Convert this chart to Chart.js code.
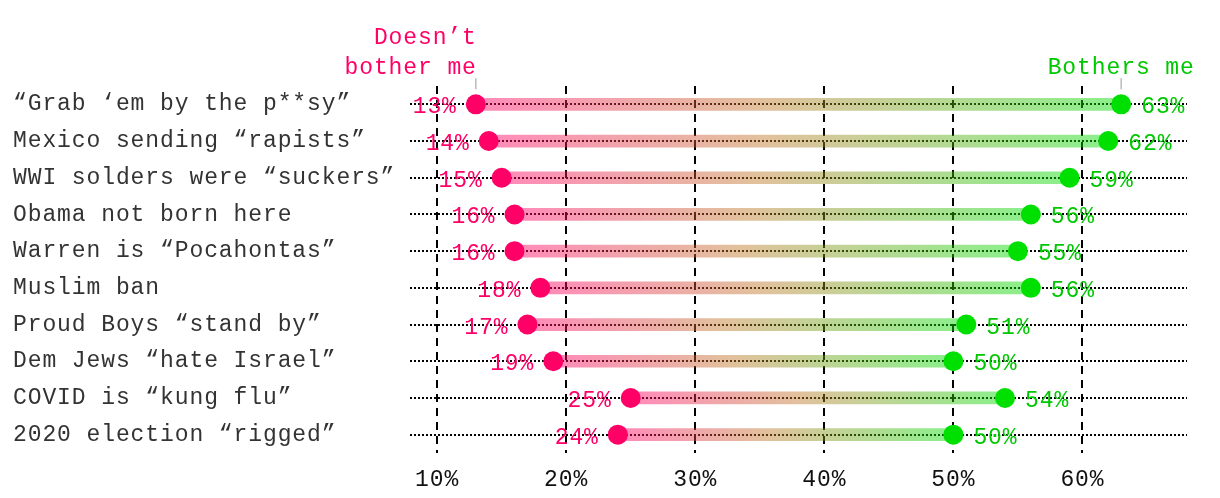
<!DOCTYPE html>
<html>
<head>
<meta charset="utf-8">
<script src="https://cdn.jsdelivr.net/npm/chart.js@4/dist/chart.umd.min.js"></script>
<style>
  html, body { margin: 0; padding: 0; background: #fff; }
  #wrap { width: 1220px; height: 498px; position: relative; }
</style>
</head>
<body>
<div id="wrap"><canvas id="c" width="1220" height="498"></canvas></div>
<script>
const categories = [
  "“Grab ‘em by the p**sy”",
  "Mexico sending “rapists”",
  "WWI solders were “suckers”",
  "Obama not born here",
  "Warren is “Pocahontas”",
  "Muslim ban",
  "Proud Boys “stand by”",
  "Dem Jews “hate Israel”",
  "COVID is “kung flu”",
  "2020 election “rigged”"
];
const doesntBother = [13, 14, 15, 16, 16, 18, 17, 19, 25, 24];
const bothers = [63, 62, 59, 56, 55, 56, 51, 50, 54, 50];
const xTicks = [10, 20, 30, 40, 50, 60];

const PINK = '#ff0066';
const GREEN = '#00e000';
const GREEN_TEXT = '#00c800';
const FONT = "'Liberation Mono', monospace";
const FSIZE = 23;
const SPACING = '0.9px';

Chart.defaults.font.family = FONT;
Chart.defaults.font.size = FSIZE;

const spacingPlugin = {
  id: 'spacing',
  beforeUpdate(c) { c.ctx.letterSpacing = SPACING; },
  beforeLayout(c) { c.ctx.letterSpacing = SPACING; },
  beforeDraw(c) { c.ctx.letterSpacing = SPACING; }
};

const labelPlugin = {
  id: 'labels',
  afterDatasetsDraw(chart) {
    const ctx = chart.ctx;
    const xs = chart.scales.x, ys = chart.scales.y;
    ctx.save();
    ctx.letterSpacing = SPACING;
    ctx.font = FSIZE + "px " + FONT;
    ctx.textBaseline = 'alphabetic';
    categories.forEach((cat, i) => {
      const y = ys.getPixelForValue(i);
      const xl = xs.getPixelForValue(doesntBother[i]);
      const xr = xs.getPixelForValue(bothers[i]);
      ctx.fillStyle = PINK;
      ctx.textAlign = 'right';
      ctx.fillText(doesntBother[i] + '%', xl - 19, y + 9);
      ctx.fillStyle = GREEN_TEXT;
      ctx.textAlign = 'left';
      ctx.fillText(bothers[i] + '%', xr + 20, y + 9);
    });
    const y0 = ys.getPixelForValue(0);
    const xl0 = xs.getPixelForValue(doesntBother[0]);
    const xr0 = xs.getPixelForValue(bothers[0]);
    ctx.fillStyle = PINK;
    ctx.textAlign = 'right';
    ctx.fillText('Doesn’t', xl0 + 1, 44);
    ctx.fillText('bother me', xl0 + 1, 74);
    ctx.fillStyle = GREEN_TEXT;
    ctx.textAlign = 'center';
    ctx.fillText('Bothers me', xr0, 74);
    ctx.strokeStyle = '#bbbbbb';
    ctx.lineWidth = 1.5;
    ctx.beginPath();
    ctx.moveTo(xl0, y0 - 26); ctx.lineTo(xl0, y0 - 15);
    ctx.moveTo(xr0, y0 - 26); ctx.lineTo(xr0, y0 - 15);
    ctx.stroke();
    ctx.restore();
  }
};

new Chart(document.getElementById('c'), {
  type: 'bar',
  data: {
    labels: categories,
    datasets: [
      {
        type: 'bar',
        data: categories.map((c, i) => [doesntBother[i], bothers[i]]),
        barThickness: 12,
        borderWidth: 0,
        borderSkipped: false,
        order: 3,
        backgroundColor: (ctx) => {
          const chart = ctx.chart;
          const xs = chart.scales && chart.scales.x;
          if (!xs || !ctx.raw || !Array.isArray(ctx.raw)) return 'rgba(200,150,120,0.45)';
          const x0 = xs.getPixelForValue(ctx.raw[0]);
          const x1 = xs.getPixelForValue(ctx.raw[1]);
          if (!isFinite(x0) || !isFinite(x1)) return 'rgba(200,150,120,0.45)';
          const g = chart.ctx.createLinearGradient(x0, 0, x1, 0);
          g.addColorStop(0, 'rgba(255,0,102,0.46)');
          g.addColorStop(0.45, 'rgba(190,120,40,0.46)');
          g.addColorStop(1, 'rgba(0,221,0,0.46)');
          return g;
        }
      },
      {
        type: 'line',
        data: doesntBother,
        showLine: false,
        order: 1,
        pointRadius: 10,
        pointHoverRadius: 10,
        pointBorderWidth: 0,
        pointBackgroundColor: PINK,
        borderColor: PINK,
        backgroundColor: PINK
      },
      {
        type: 'line',
        data: bothers,
        showLine: false,
        order: 1,
        pointRadius: 10,
        pointHoverRadius: 10,
        pointBorderWidth: 0,
        pointBackgroundColor: GREEN,
        borderColor: GREEN,
        backgroundColor: GREEN
      }
    ]
  },
  options: {
    indexAxis: 'y',
    responsive: false,
    animation: false,
    events: [],
    layout: { padding: { top: 86, left: 13, right: 33, bottom: 0 } },
    plugins: { legend: { display: false }, tooltip: { enabled: false } },
    scales: {
      x: {
        type: 'linear',
        min: 7.9,
        max: 68.1,
        afterBuildTicks: (scale) => { scale.ticks = xTicks.map(v => ({ value: v })); },
        afterFit: (scale) => { scale.height = 45; },
        grid: { color: '#000', lineWidth: 2, drawTicks: false },
        border: { display: false, dash: [8, 6] },
        ticks: {
          color: '#111',
          padding: 13,
          font: { size: FSIZE, family: FONT },
          callback: (v) => v + '%'
        }
      },
      y: {
        type: 'category',
        offset: true,
        afterFit: (scale) => { scale.width = 397; },
        grid: { color: '#000', lineWidth: 2, drawTicks: false, offset: false },
        border: { display: false, dash: [2, 2] },
        ticks: {
          color: '#333',
          crossAlign: 'far',
          padding: 0,
          font: { size: FSIZE, family: FONT }
        }
      }
    }
  },
  plugins: [spacingPlugin, labelPlugin]
});
</script>
</body>
</html>
